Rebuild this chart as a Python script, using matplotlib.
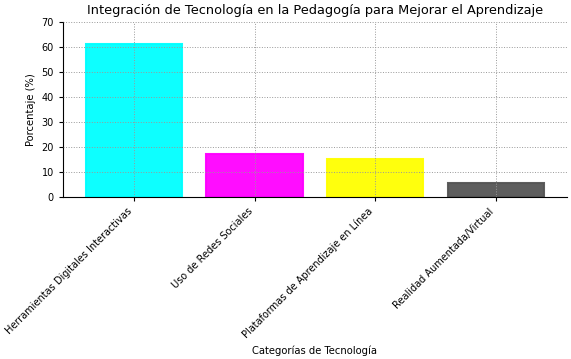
import matplotlib.pyplot as plt

categorias = ['Herramientas Digitales Interactivas', 'Uso de Redes Sociales',
              'Plataformas de Aprendizaje en Línea', 'Realidad Aumentada/Virtual']
porcentajes = [61.3, 17.3, 15.4, 5.8]
colores = ['#00ffff', '#ff00ff', '#ffff00', '#555555']

fig = plt.figure(figsize=(5.71, 3.59), dpi=100)
ax = fig.add_axes([0.110, 0.451, 0.883, 0.488])
ax.bar(categorias, porcentajes, color=colores, edgecolor=colores, linewidth=1.5, alpha=0.95)
ax.set_ylim(0, 70)
ax.grid(True, linestyle=':', color='#999999', linewidth=0.7)
ax.set_axisbelow(False)
ax.spines['top'].set_visible(False)
ax.spines['right'].set_visible(False)
ax.tick_params(labelsize=7, length=3)
plt.setp(ax.get_xticklabels(), rotation=45, ha='right')
ax.set_title('Integración de Tecnología en la Pedagogía para Mejorar el Aprendizaje', fontsize=9.3)
ax.set_ylabel('Porcentaje (%)', fontsize=7.2)
ax.set_xlabel('Categorías de Tecnología', fontsize=7.2)
fig.savefig('out.png', dpi=100)
plt.close()
